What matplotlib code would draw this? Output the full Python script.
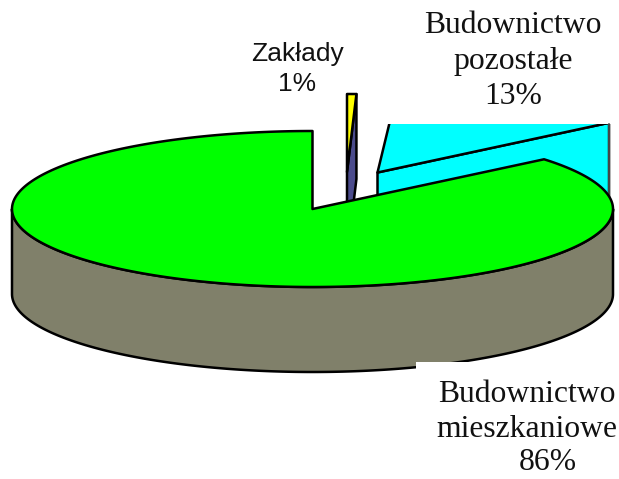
import numpy as np
import matplotlib
matplotlib.use("Agg")
import matplotlib.pyplot as plt
from matplotlib.patches import Polygon, Rectangle

# dane
names = ["Budownictwo\nmieszkaniowe", "Budownictwo\npozostałe", "Zakłady"]
percent_labels = [86, 13, 1]
slice_shares = [86.0, 13.0, 0.5]  # the thin slice is drawn narrower than its label says

colors = ["#00FF00", "#00FFFF", "#FFFF00"]
side_color = "#80806A"
thin_side_color = "#4B4B8C"

# geometry of the tilted pie, in pixels
cx, cy = 312.5, 209
rx, ry = 300.5, 78
depth = 85
LW = 1.8


def rim(cen, a0, a1):
    t = np.radians(np.linspace(a0, a1, 300))
    return np.column_stack([cen[0] + rx * np.cos(t), cen[1] - ry * np.sin(t)])


def shape(ax, pts, fc, clip=None, z=1, lw=LW, ec="black"):
    p = Polygon(pts, closed=True, fc=fc, ec=ec, lw=lw, joinstyle="round", zorder=z)
    ax.add_patch(p)
    if clip is not None:
        p.set_clip_path(Rectangle((clip[0], clip[1]), clip[2], clip[3], transform=ax.transData))
    return p


fig = plt.figure(figsize=(6.19, 4.79), dpi=100)
ax = fig.add_axes([0, 0, 1, 1])
ax.set_xlim(0, 619)
ax.set_ylim(479, 0)
ax.axis("off")

# angles
green_end = 90 + slice_shares[0] * 3.6
cyan_start = green_end - 360
cyan_end = cyan_start + slice_shares[1] * 3.6
thin_end = 90 - slice_shares[2] * 3.6

# pozostale - exploded, cut off at the top
apex = np.array([377.5, 172.5])
arc = rim(apex, cyan_start, cyan_end)
cyan_clip = (0, 123.5, 619, 200)
down = np.array([0, depth])
shape(ax, [apex, arc[0], arc[0] + down, apex + down], colors[1], cyan_clip, z=1)
shape(ax, np.vstack([[apex], arc]), colors[1], cyan_clip, z=2)
ax.plot([arc[0][0], arc[0][0]], [124, 200], color="#555555", lw=1.2, zorder=3)

# zaklady - exploded, cut off at the top
apex2 = np.array([347.0, 172.0])
arc2 = rim(apex2, thin_end, 90)
shape(ax, [apex2, arc2[0], arc2[0] + down, apex2 + down], thin_side_color, z=3)
shape(ax, np.vstack([[apex2], arc2]), colors[2], z=4)

# mieszkaniowe
centre = np.array([cx, cy])
front = rim(centre, 180, 360)
shape(ax, np.vstack([front, (front + down)[::-1]]), side_color, z=5)
shape(ax, np.vstack([[centre], rim(centre, 90, green_end)]), colors[0], z=6)

# white box of the label covers the bottom edge
ax.add_patch(Rectangle((416, 362), 203, 117, fc="white", ec="none", zorder=7))

# labels
serif = "Liberation Serif"
ax.text(513, 61, f"{names[1]}\n{percent_labels[1]}%", family=serif, fontsize=22.8,
        ha="center", va="center", linespacing=1.29, color="#111111", zorder=8)
ax.text(527, 412, names[0], family=serif, fontsize=22.8,
        ha="center", va="center", linespacing=1.29, color="#111111", zorder=8)
ax.text(548, 463, f"{percent_labels[0]}%", family=serif, fontsize=22.8,
        ha="center", va="center", color="#111111", zorder=8)
ax.text(297, 69, f"{names[2]}\n{percent_labels[2]}%", family="Liberation Sans", fontsize=19,
        ha="center", va="center", linespacing=1.3, color="#111111", zorder=8)

fig.savefig("out.png", dpi=100)
